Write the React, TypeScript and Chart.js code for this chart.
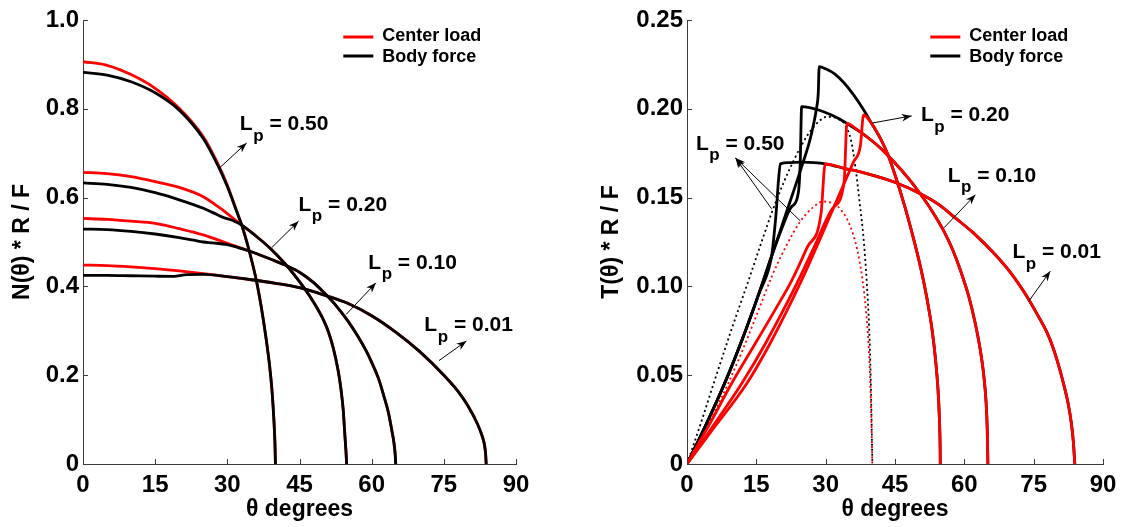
import React, { useEffect, useRef } from "react";
import { Chart, registerables } from "chart.js";

Chart.register(...registerables);

const FONT = "'Liberation Sans', Arial, Helvetica, sans-serif";
const RED = "#ff0000";
const BLACK = "#000000";
const AXIS = "#3c3c3c";

// ---------- ticks & labels ----------
const thetaTicks = [0, 15, 30, 45, 60, 75, 90];
const nTicks = [0, 0.2, 0.4, 0.6, 0.8, 1.0];
const nTickLabels = ["0", "0.2", "0.4", "0.6", "0.8", "1.0"];
const tTicks = [0, 0.05, 0.1, 0.15, 0.2, 0.25];
const tTickLabels = ["0", "0.05", "0.10", "0.15", "0.20", "0.25"];
const legendLabels = ["Center load", "Body force"];
const lpLabels = ["0.50", "0.20", "0.10", "0.01"];
const xTitle = "θ degrees";
const nTitle = "N(θ) * R / F";
const tTitle = "T(θ) * R / F";

// ---------- left panel: N(θ)R/F  [θ, value] ----------
const N_center_050 = [[0,0.906],[5,0.898],[10,0.877],[15,0.846],[20,0.801],[25,0.737],[28,0.677],[30,0.628],[32,0.568],[33,0.538],[34.5,0.482],[36,0.415],[37,0.357],[38,0.287],[38.8,0.22],[39.3,0.163],[39.7,0.095],[39.9,0.045],[40,0]];
const N_body_050 = [[0,0.882],[5,0.876],[10,0.861],[15,0.836],[20,0.797],[25,0.733],[28,0.673],[30,0.625],[32,0.567],[33,0.538],[34.5,0.482],[36,0.415],[37,0.357],[38,0.287],[38.8,0.22],[39.3,0.163],[39.7,0.095],[39.9,0.045],[40,0]];
const N_center_020 = [[0,0.657],[5,0.654],[10,0.647],[15,0.636],[20,0.623],[25,0.602],[28,0.58],[30,0.564],[33,0.538],[36,0.513],[39,0.485],[42,0.451],[44,0.425],[46,0.396],[48,0.363],[50,0.324],[51,0.298],[52,0.262],[53,0.212],[53.6,0.17],[54.1,0.12],[54.4,0.07],[54.65,0.03],[54.8,0]];
const N_body_020 = [[0,0.633],[5,0.630],[10,0.623],[15,0.611],[20,0.595],[25,0.576],[28,0.561],[29,0.556],[31,0.549],[33,0.538],[36,0.513],[39,0.485],[42,0.451],[44,0.425],[46,0.396],[48,0.363],[50,0.324],[51,0.298],[52,0.262],[53,0.212],[53.6,0.17],[54.1,0.12],[54.4,0.07],[54.65,0.03],[54.8,0]];
const N_center_010 = [[0,0.553],[5,0.551],[10,0.547],[15,0.542],[20,0.530],[25,0.516],[30,0.497],[35,0.478],[40,0.457],[42,0.448],[45,0.432],[48,0.408],[50,0.387],[52.5,0.358],[55,0.323],[57,0.29],[59,0.252],[60,0.229],[61.5,0.19],[62.5,0.154],[63.5,0.115],[64.2,0.075],[64.6,0.05],[64.9,0.02],[65,0]];
const N_body_010 = [[0,0.529],[5,0.528],[10,0.524],[15,0.518],[20,0.51],[23,0.504],[25,0.5],[27,0.498],[30,0.494],[33,0.485],[35,0.478],[40,0.457],[42,0.448],[45,0.432],[48,0.408],[50,0.387],[52.5,0.358],[55,0.323],[57,0.29],[59,0.252],[60,0.229],[61.5,0.19],[62.5,0.154],[63.5,0.115],[64.2,0.075],[64.6,0.05],[64.9,0.02],[65,0]];
const N_center_001 = [[0,0.448],[5,0.447],[10,0.444],[15,0.44],[20,0.435],[25,0.429],[30,0.422],[35,0.415],[40,0.407],[45,0.397],[50,0.381],[55,0.362],[60,0.334],[65,0.297],[70,0.253],[75,0.2],[78,0.163],[80,0.131],[82,0.09],[83,0.062],[83.5,0.04],[83.7,0.02],[83.8,0]];
const N_body_001 = [[0,0.425],[5,0.425],[10,0.424],[15,0.423],[19,0.4225],[21,0.426],[25,0.427],[30,0.422],[35,0.415],[40,0.407],[45,0.397],[50,0.381],[55,0.362],[60,0.334],[65,0.297],[70,0.253],[75,0.2],[78,0.163],[80,0.131],[82,0.09],[83,0.062],[83.5,0.04],[83.7,0.02],[83.8,0]];

// ---------- right panel: T(θ)R/F  [θ, value] ----------
const T_arc_001 = [[34,0.1665],[38.9,0.1635],[45.1,0.1585],[50.6,0.152],[54.5,0.146],[58.3,0.138],[62,0.130],[66.1,0.1195],[70,0.1078],[73,0.0965],[75.5,0.0855],[77.8,0.0745],[79.2,0.0655],[80.4,0.0555],[81.5,0.0448],[82.5,0.0335],[83.2,0.022],[83.6,0.012],[83.9,0]];
const T_rise_center_001 = [[0,0],[5,0.023],[9.7,0.0456],[14.8,0.068],[19,0.0865],[22.7,0.1035],[26,0.122],[29,0.141],[29.9,0.169]];
const T_rise_body_001 = [[0,0],[4,0.0215],[8.4,0.047],[12,0.0705],[15.5,0.0955],[18.3,0.117],[18.8,0.128],[19.3,0.142],[19.8,0.160],[20.2,0.169],[22,0.1697],[25,0.170],[27.5,0.1697],[29.9,0.169]];

const T_arc_010 = [[37,0.1878],[40,0.182],[42,0.1775],[45,0.1695],[48,0.1605],[50.5,0.152],[53,0.1425],[55.6,0.131],[57.5,0.1205],[59.3,0.108],[61,0.094],[62.3,0.080],[63.4,0.065],[64.2,0.05],[64.7,0.035],[64.95,0.02],[65.1,0]];
const T_rise_center_010 = [[0,0],[5,0.019],[11.9,0.0456],[17,0.068],[23.8,0.1018],[28,0.125],[31.5,0.144],[34.0,0.159],[34.6,0.1918]];
const T_rise_body_010 = [[0,0],[4,0.0215],[8.4,0.047],[12,0.0705],[15.5,0.0955],[18.3,0.117],[20.5,0.1325],[22.5,0.1445],[24.1,0.153],[24.5,0.170],[24.8,0.2012],[26.5,0.2007],[28.5,0.1993],[31,0.1968],[33,0.1943],[34.6,0.1918]];

const T_arc_020 = [[42,0.1825],[43.5,0.174],[45.1,0.162],[47,0.146],[48.6,0.131],[50.6,0.11],[52,0.092],[53,0.076],[53.8,0.058],[54.3,0.042],[54.6,0.026],[54.75,0.012],[54.8,0]];
const T_rise_center_020 = [[0,0],[5,0.0175],[13,0.0456],[18,0.068],[24.5,0.1018],[29,0.128],[33,0.152],[36,0.170],[37.5,0.179],[38.2,0.1965],[40,0.1915]];
const T_rise_body_020 = [[0,0],[4,0.0215],[8.4,0.047],[12,0.0705],[15.5,0.0955],[18.3,0.117],[20,0.130],[21.6,0.1425],[23.5,0.157],[25.2,0.1705],[26.5,0.1815],[27.4,0.1915],[28,0.2],[28.4,0.209],[28.6,0.2237],[30,0.2225],[32,0.2195],[34,0.2145],[36,0.208],[38.2,0.1995],[40,0.1915]];

const T_dot_body_050 = [[0,0],[3,0.023],[5.8,0.0456],[9.4,0.074],[13.1,0.1018],[16,0.124],[18.4,0.142],[21,0.159],[23.1,0.171],[25,0.1805],[26.7,0.1875],[28.5,0.1928],[30.3,0.1955],[32.5,0.1945],[34.2,0.191],[35.5,0.182],[36.5,0.166],[37.4,0.146],[38.2,0.127],[38.9,0.102],[39.4,0.077],[39.75,0.048],[39.95,0.022],[40.1,0]];
const T_dot_center_050 = [[0,0],[3,0.0145],[6,0.0295],[9,0.046],[12,0.064],[15,0.0835],[18.5,0.1065],[21.5,0.123],[24.5,0.1365],[27.4,0.1448],[29.5,0.1478],[31.5,0.1468],[33.5,0.1425],[35.3,0.134],[36.8,0.121],[37.9,0.105],[38.7,0.087],[39.3,0.066],[39.7,0.042],[39.95,0.018],[40.1,0]];

// ---------- annotations (data coordinates) ----------
const nLabelPos = [[32.6,0.752],[44.8,0.570],[59.3,0.440],[70.95,0.299]];
const nArrows = [[[28.4,0.667],[34.0,0.723]],[[39.2,0.487],[44.8,0.547]],[[54.7,0.337],[60.9,0.408]],[[74.0,0.233],[79.7,0.277]]];
const tLabelPos = [[1.94,0.177],[50.6,0.193],[56.4,0.159],[70.4,0.1158]];
const tArrows = [[[18.3,0.1437],[10.5,0.1723]],[[24.5,0.1369],[10.5,0.1723]],[[40.1,0.192],[48.6,0.196]],[[55.6,0.133],[62.4,0.1516]],[[73.9,0.0915],[78.6,0.1086]]];

type Pt = number[];
interface Series { pts: Pt[]; color: string; width: number; dash?: number[] }
interface PanelCfg {
  series: Series[];
  yMax: number;
  yTicks: number[];
  yTickLabels: string[];
  yTitle: string;
  yWidth: number;
  yTitlePad: number;
  padRight: number;
  labelPos: Pt[];
  arrows: Pt[][];
}

function drawArrow(ctx: CanvasRenderingContext2D, x0: number, y0: number, x1: number, y1: number) {
  ctx.beginPath();
  ctx.moveTo(x0, y0);
  ctx.lineTo(x1, y1);
  ctx.stroke();
  const a = Math.atan2(y1 - y0, x1 - x0);
  const L = 10, W = 3.8;
  const c = Math.cos(a), s = Math.sin(a);
  ctx.beginPath();
  ctx.moveTo(x1, y1);
  ctx.lineTo(x1 - L * c + W * s, y1 - L * s - W * c);
  ctx.lineTo(x1 - L * 0.7 * c, y1 - L * 0.7 * s);
  ctx.lineTo(x1 - L * c - W * s, y1 - L * s + W * c);
  ctx.closePath();
  ctx.fill();
}

function makePlugin(cfg: PanelCfg) {
  return {
    id: "paperDecor",
    afterDatasetsDraw(chart: any) {
      const { ctx, chartArea: ca, scales } = chart;
      const xs = scales.x, ys = scales.y;
      ctx.save();
      // inward ticks
      ctx.strokeStyle = AXIS;
      ctx.lineWidth = 1;
      ctx.beginPath();
      for (const v of thetaTicks) {
        const px = Math.round(xs.getPixelForValue(v)) + 0.5;
        ctx.moveTo(px, ca.bottom);
        ctx.lineTo(px, ca.bottom - 5);
      }
      for (const v of cfg.yTicks) {
        const py = Math.round(ys.getPixelForValue(v)) + 0.5;
        ctx.moveTo(ca.left, py);
        ctx.lineTo(ca.left + 5, py);
      }
      ctx.stroke();

      // legend
      const R = ca.right, T = ca.top;
      ctx.lineWidth = 3;
      ctx.strokeStyle = RED;
      ctx.beginPath();
      ctx.moveTo(R - 172.7, T + 17);
      ctx.lineTo(R - 142.7, T + 17);
      ctx.stroke();
      ctx.strokeStyle = BLACK;
      ctx.beginPath();
      ctx.moveTo(R - 172.7, T + 36);
      ctx.lineTo(R - 142.7, T + 36);
      ctx.stroke();
      ctx.fillStyle = "#000";
      ctx.font = `bold 18px ${FONT}`;
      ctx.textAlign = "left";
      ctx.textBaseline = "alphabetic";
      ctx.fillText(legendLabels[0], R - 133.7, T + 20.5);
      ctx.fillText(legendLabels[1], R - 133.7, T + 42);

      // Lp labels
      cfg.labelPos.forEach((p, i) => {
        const x = xs.getPixelForValue(p[0]);
        const y = ys.getPixelForValue(p[1]);
        ctx.font = `bold 21px ${FONT}`;
        ctx.fillText("L", x, y);
        const wL = ctx.measureText("L").width;
        ctx.font = `bold 17px ${FONT}`;
        ctx.fillText("p", x + wL + 0.5, y + 10.5);
        const wp = ctx.measureText("p").width;
        ctx.font = `bold 21px ${FONT}`;
        ctx.fillText(" = " + lpLabels[i], x + wL + wp + 0.5, y);
      });

      // arrows
      ctx.strokeStyle = "#000";
      ctx.fillStyle = "#000";
      ctx.lineWidth = 1;
      for (const a of cfg.arrows) {
        drawArrow(
          ctx,
          xs.getPixelForValue(a[0][0]), ys.getPixelForValue(a[0][1]),
          xs.getPixelForValue(a[1][0]), ys.getPixelForValue(a[1][1])
        );
      }
      ctx.restore();
    },
  };
}

function buildChart(canvas: HTMLCanvasElement, cfg: PanelCfg) {
  const tickFont = { family: FONT, size: 24, weight: "bold" as const };
  const titleFont = { family: FONT, size: 23, weight: "bold" as const };
  return new Chart(canvas, {
    type: "line",
    data: {
      datasets: cfg.series.map((s) => ({
        data: s.pts.map(([x, y]) => ({ x, y })),
        borderColor: s.color,
        borderWidth: s.width,
        borderDash: s.dash || [],
        pointRadius: 0,
        fill: false,
        cubicInterpolationMode: "monotone" as const,
        borderCapStyle: "butt" as const,
        borderJoinStyle: "round" as const,
      })),
    },
    options: {
      animation: false,
      responsive: false,
      devicePixelRatio: 1,
      layout: { padding: { top: 20, right: cfg.padRight, left: 0, bottom: 0 } },
      plugins: { legend: { display: false }, tooltip: { enabled: false } },
      scales: {
        x: {
          type: "linear",
          min: 0,
          max: 90,
          afterBuildTicks: (s: any) => {
            s.ticks = thetaTicks.map((v) => ({ value: v }));
          },
          grid: { display: false, drawTicks: false },
          border: { display: true, color: AXIS, width: 1 },
          ticks: {
            color: "#000",
            font: tickFont,
            padding: 7,
            maxRotation: 0,
            autoSkip: false,
            callback: (v: any) => String(v),
          },
          title: {
            display: true,
            text: xTitle,
            color: "#000",
            font: titleFont,
            padding: { top: 0, bottom: 4 },
          },
          afterFit: (s: any) => {
            s.height = 63;
          },
        },
        y: {
          type: "linear",
          min: 0,
          max: cfg.yMax,
          afterBuildTicks: (s: any) => {
            s.ticks = cfg.yTicks.map((v) => ({ value: v }));
          },
          grid: { display: false, drawTicks: false },
          border: { display: true, color: AXIS, width: 1 },
          ticks: {
            color: "#000",
            font: tickFont,
            padding: 4,
            autoSkip: false,
            callback: (_v: any, i: number) => cfg.yTickLabels[i],
          },
          title: {
            display: true,
            text: cfg.yTitle,
            color: "#000",
            font: titleFont,
            padding: { top: cfg.yTitlePad, bottom: 0 },
          },
          afterFit: (s: any) => {
            s.width = cfg.yWidth;
          },
        },
      },
    } as any,
    plugins: [makePlugin(cfg)],
  });
}

const LW = 2.8;

const leftCfg: PanelCfg = {
  series: [
    { pts: N_body_050, color: BLACK, width: LW },
    { pts: N_body_020, color: BLACK, width: LW },
    { pts: N_body_010, color: BLACK, width: LW },
    { pts: N_body_001, color: BLACK, width: LW },
    { pts: N_center_050, color: RED, width: LW },
    { pts: N_center_020, color: RED, width: LW },
    { pts: N_center_010, color: RED, width: LW },
    { pts: N_center_001, color: RED, width: LW },
  ],
  yMax: 1.0,
  yTicks: nTicks,
  yTickLabels: nTickLabels,
  yTitle: nTitle,
  yWidth: 83,
  yTitlePad: 9,
  padRight: 44,
  labelPos: nLabelPos,
  arrows: nArrows,
};

const rightCfg: PanelCfg = {
  series: [
    { pts: [...T_rise_center_020, ...T_arc_020], color: RED, width: LW },
    { pts: [...T_rise_center_010, ...T_arc_010], color: RED, width: LW },
    { pts: [...T_rise_center_001, ...T_arc_001], color: RED, width: LW },
    { pts: [...T_rise_body_020, ...T_arc_020], color: BLACK, width: LW },
    { pts: [...T_rise_body_010, ...T_arc_010], color: BLACK, width: LW },
    { pts: [...T_rise_body_001, ...T_arc_001], color: BLACK, width: LW },
    { pts: T_dot_center_050, color: RED, width: 1.8, dash: [2, 3] },
    { pts: T_dot_body_050, color: BLACK, width: 1.8, dash: [2, 3] },
  ],
  yMax: 0.25,
  yTicks: tTicks,
  yTickLabels: tTickLabels,
  yTitle: tTitle,
  yWidth: 127,
  yTitlePad: 38,
  padRight: 24,
  labelPos: tLabelPos,
  arrows: tArrows,
};

function Panel({ cfg, left, width }: { cfg: PanelCfg; left: number; width: number }) {
  const ref = useRef<HTMLCanvasElement>(null);
  useEffect(() => {
    const chart = buildChart(ref.current as HTMLCanvasElement, cfg);
    return () => chart.destroy();
  }, []);
  return (
    <canvas
      ref={ref}
      width={width}
      height={527}
      style={{ position: "absolute", left, top: 0, width, height: 527 }}
    />
  );
}

export default function App() {
  return (
    <div style={{ position: "absolute", left: 0, top: 0, width: 1127, height: 527, background: "#fff", overflow: "hidden" }}>
      <Panel cfg={leftCfg} left={0} width={560} />
      <Panel cfg={rightCfg} left={560} width={567} />
    </div>
  );
}
